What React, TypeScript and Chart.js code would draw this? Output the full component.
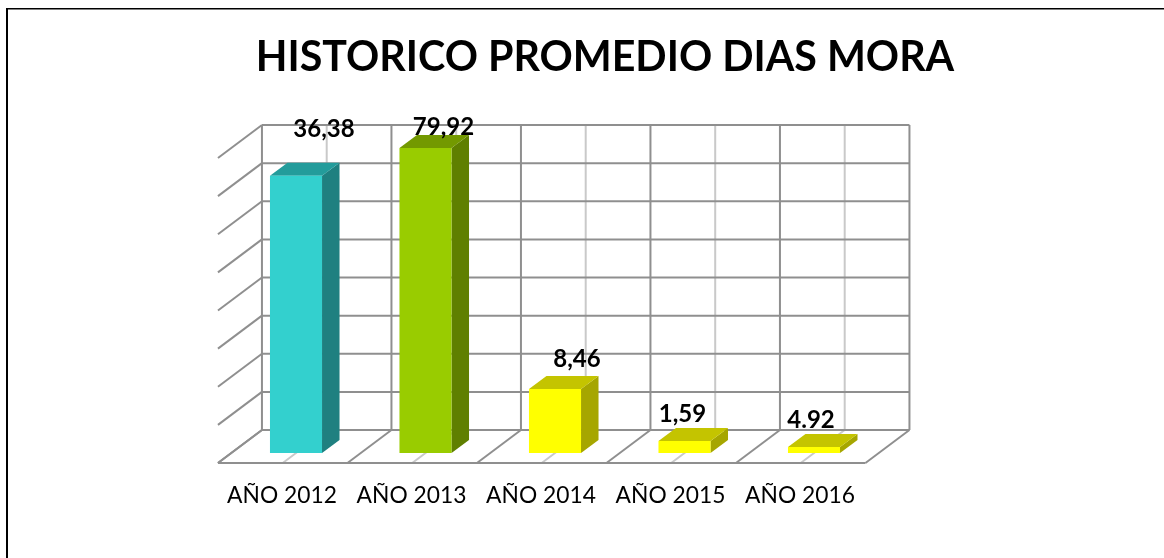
import React, { useEffect, useRef } from "react";
import { Chart, registerables } from "chart.js";

Chart.register(...registerables);

const chartTitle = "HISTORICO PROMEDIO DIAS MORA";
const categories = ["AÑO 2012", "AÑO 2013", "AÑO 2014", "AÑO 2015", "AÑO 2016"];
const barHeights = [72.7, 80, 16.8, 3.15, 1.6];
const printedLabels = ["36,38", "79,92", "8,46", "1,59", "4.92"];
const frontColors = ["#33D0CE", "#99CC00", "#FFFF00", "#FFFF00", "#FFFF00"];
const topColors = ["#239C9B", "#739900", "#C4C400", "#C4C400", "#C4C400"];
const sideColors = ["#1F8080", "#5F7F00", "#A6A600", "#A6A600", "#A6A600"];
const labelShiftX = [28, 18, 22, -2, -3];
const labelGapY = [47, 21, 30, 27, 27];

const WALL_DX = 30.7;
const WALL_DY = -23;
const FLOOR_DX = -13.3;
const FLOOR_DY = 10;
const BAR_DX = 17.5;
const BAR_DY = -13;

const scene = {
  id: "scene3d",
  beforeDatasetsDraw(chart: any) {
    const { ctx, chartArea, scales } = chart;
    const xs = scales.x;
    const ys = scales.y;
    const step = (chartArea.right - chartArea.left) / categories.length;
    const bl = chartArea.left + WALL_DX;
    const br = chartArea.right + WALL_DX;
    const fl = chartArea.left + FLOOR_DX;
    const fr = chartArea.right + FLOOR_DX;
    const wallBase = chartArea.bottom + WALL_DY;
    const wallTop = chartArea.top + WALL_DY;
    const floorY = chartArea.bottom + FLOOR_DY;
    const depthX = WALL_DX - FLOOR_DX;
    const depthY = FLOOR_DY - WALL_DY;

    const seg = (x1: number, y1: number, x2: number, y2: number) => {
      ctx.beginPath();
      ctx.moveTo(x1, y1);
      ctx.lineTo(x2, y2);
      ctx.stroke();
    };

    ctx.save();
    // frame of the picture
    ctx.fillStyle = "#000000";
    ctx.fillRect(6, 8, 2, 550);
    ctx.fillRect(6, 8, 1158, 1.5);

    // light centre lines on the wall and floor
    ctx.strokeStyle = "#C9C9C9";
    ctx.lineWidth = 2;
    categories.forEach((_, i) => {
      const cx = xs.getPixelForValue(i) + WALL_DX;
      seg(cx, wallTop, cx, wallBase);
      seg(cx, wallBase, cx - depthX, wallBase + depthY);
    });

    // grid of the wall
    ctx.strokeStyle = "#8F8F8F";
    ys.ticks.forEach((t: any) => {
      const y = ys.getPixelForValue(t.value) + WALL_DY;
      seg(bl, y, br, y);
      seg(bl, y, bl - depthX, y + depthY);
    });
    for (let i = 0; i <= categories.length; i++) {
      const x = bl + step * i;
      seg(x, wallTop, x, wallBase);
      seg(x, wallBase, x - depthX, wallBase + depthY);
    }
    seg(fl, floorY, fr, floorY);

    // side and top faces of the bars
    chart.getDatasetMeta(0).data.forEach((bar: any, i: number) => {
      const w = bar.width / 2;
      const left = bar.x - w;
      const right = bar.x + w;
      ctx.fillStyle = sideColors[i];
      ctx.beginPath();
      ctx.moveTo(right, bar.y);
      ctx.lineTo(right + BAR_DX, bar.y + BAR_DY);
      ctx.lineTo(right + BAR_DX, bar.base + BAR_DY);
      ctx.lineTo(right, bar.base);
      ctx.closePath();
      ctx.fill();
      ctx.fillStyle = topColors[i];
      ctx.beginPath();
      ctx.moveTo(left, bar.y);
      ctx.lineTo(left + BAR_DX, bar.y + BAR_DY);
      ctx.lineTo(right + BAR_DX, bar.y + BAR_DY);
      ctx.lineTo(right, bar.y);
      ctx.closePath();
      ctx.fill();
    });
    ctx.restore();
  },
  afterDatasetsDraw(chart: any) {
    const { ctx } = chart;
    ctx.save();
    ctx.fillStyle = "#000000";
    ctx.font = "bold 24px Lato";
    ctx.textAlign = "center";
    ctx.textBaseline = "middle";
    chart.getDatasetMeta(0).data.forEach((bar: any, i: number) => {
      ctx.fillText(printedLabels[i], bar.x + labelShiftX[i], bar.y - labelGapY[i]);
    });
    ctx.restore();
  },
};

export default function App() {
  const ref = useRef<HTMLCanvasElement>(null);
  useEffect(() => {
    const chart = new Chart(ref.current as HTMLCanvasElement, {
      type: "bar",
      data: {
        labels: categories,
        datasets: [
          {
            data: barHeights,
            backgroundColor: frontColors,
            barPercentage: 0.402,
            categoryPercentage: 1,
          },
        ],
      },
      plugins: [scene],
      options: {
        animation: false,
        responsive: false,
        layout: { padding: { left: 46, right: 0, top: 0, bottom: 45 } },
        plugins: {
          legend: { display: false },
          tooltip: { enabled: false },
          title: {
            display: true,
            text: chartTitle,
            color: "#000000",
            font: { family: "Lato", size: 41.2, weight: "bold", lineHeight: 1.2 },
            padding: { top: 33.3, bottom: 65.3 },
          },
        },
        scales: {
          x: {
            grid: { display: false },
            border: { display: false },
            afterFit: (s: any) => {
              s.height = 60;
            },
            ticks: {
              color: "#000000",
              font: { family: "Lato", size: 22.8 },
              padding: 21,
              labelOffset: -14,
              autoSkip: false,
              maxRotation: 0,
            },
          },
          y: {
            min: 0,
            max: 80,
            grid: { display: false },
            border: { display: false },
            ticks: { display: false, stepSize: 10 },
            afterFit: (s: any) => {
              s.width = 185.25;
            },
          },
          yRight: {
            position: "right",
            grid: { display: false },
            border: { display: false },
            ticks: { display: false },
            afterFit: (s: any) => {
              s.width = 285.25;
            },
          },
        },
      },
    } as any);
    return () => chart.destroy();
  }, []);
  return (
    <canvas
      ref={ref}
      width={1164}
      height={558}
      style={{ position: "fixed", left: 0, top: 0, width: 1164, height: 558, display: "block" }}
    />
  );
}
